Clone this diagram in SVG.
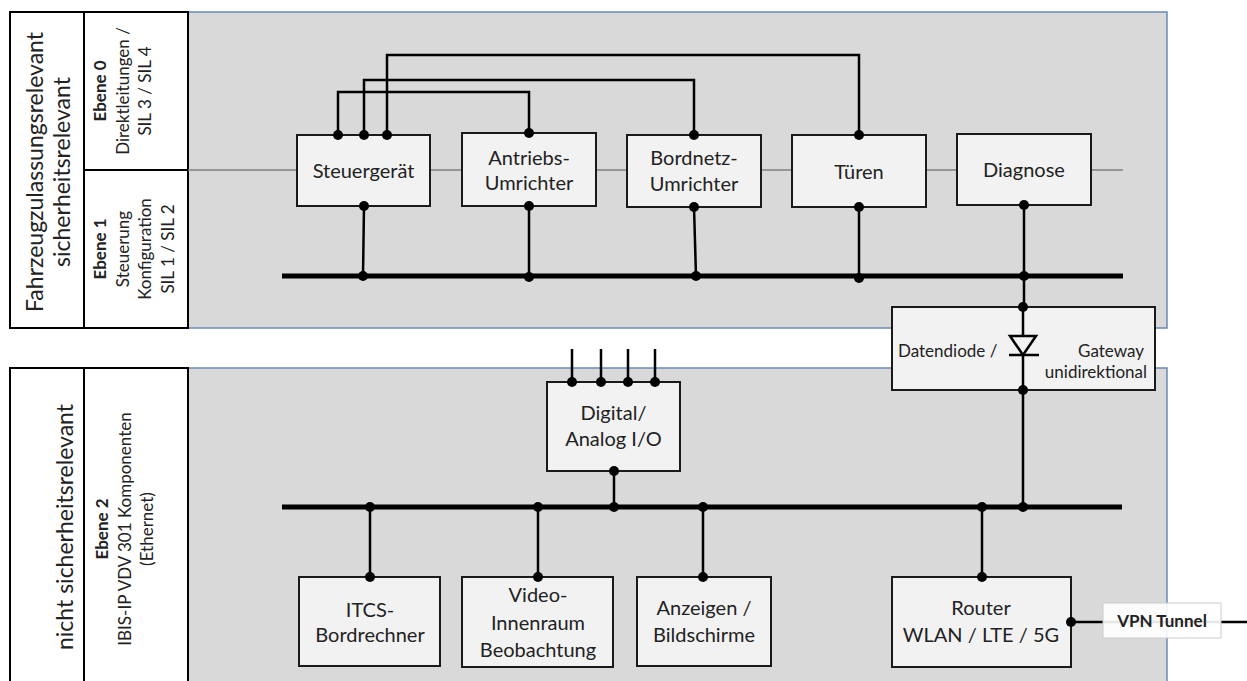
<svg xmlns="http://www.w3.org/2000/svg" width="1247" height="681" viewBox="0 0 1247 681">
<style>
.panel{fill:#d9d9d9;stroke:#6a8bb5;stroke-width:1.5}
.lab{fill:#fff;stroke:#000;stroke-width:2}
.box{fill:#f2f2f2;stroke:#1a1a1a;stroke-width:2}
.t{font-family:Lato,"Open Sans",sans-serif;font-size:20px;fill:#222;text-anchor:middle}
.g{font-size:17px}
.big{font-family:Lato,"Open Sans",sans-serif;font-size:23px;fill:#222;text-anchor:middle}
.sm{font-family:Lato,"Open Sans",sans-serif;font-size:17px;fill:#222;text-anchor:middle}
.b{font-weight:bold}
.ln{fill:none;stroke:#000;stroke-width:2.5}
.bus{fill:none;stroke:#000;stroke-width:5}
.thin{fill:none;stroke:#7f7f7f;stroke-width:1.5}
.dot{fill:#000}
</style>
<rect width="1247" height="681" fill="#fff"/>
<g id="panels">
<rect class="panel" x="188" y="12" width="979" height="316"/>
<rect class="panel" x="188" y="368" width="979" height="320"/>
</g>
<g id="labels">
<rect class="lab" x="10" y="12" width="74" height="316"/>
<rect class="lab" x="84" y="12" width="104" height="158"/>
<rect class="lab" x="84" y="170" width="104" height="158"/>
<rect class="lab" x="10" y="368" width="74" height="320"/>
<rect class="lab" x="84" y="368" width="104" height="320"/>
<text class="big" transform="translate(43,172) rotate(-90)"><tspan x="0" y="0">Fahrzeugzulassungsrelevant</tspan><tspan x="0" y="27">sicherheitsrelevant</tspan></text>
<text class="sm" transform="translate(106,91) rotate(-90)"><tspan x="0" y="0" class="b">Ebene 0</tspan><tspan x="0" y="22.5">Direktleitungen /</tspan><tspan x="0" y="45">SIL 3 / SIL 4</tspan></text>
<text class="sm" transform="translate(106,249) rotate(-90)"><tspan x="0" y="0" class="b">Ebene 1</tspan><tspan x="0" y="22.5">Steuerung</tspan><tspan x="0" y="45">Konfiguration</tspan><tspan x="0" y="67.5">SIL 1 / SIL 2</tspan></text>
<text class="big" transform="translate(73,527) rotate(-90)">nicht sicherheitsrelevant</text>
<text class="sm" transform="translate(108,529) rotate(-90)"><tspan x="0" y="0" class="b">Ebene 2</tspan><tspan x="0" y="22.5">IBIS-IP VDV 301 Komponenten</tspan><tspan x="0" y="45">(Ethernet)</tspan></text>
</g>
<g id="connectors">
<line class="thin" x1="188" y1="170" x2="1123" y2="170"/>
<line class="bus" x1="282" y1="276" x2="1123" y2="276"/>
<line class="bus" x1="282" y1="507" x2="1122" y2="507"/>
<path class="ln" d="M338,135 V92 H529 V133"/>
<path class="ln" d="M364,135 V80 H694 V135"/>
<path class="ln" d="M387,135 V55 H859 V135"/>
<path class="ln" d="M364,206 L363,276"/>
<path class="ln" d="M529,206 V276"/>
<path class="ln" d="M694,207 L696,276"/>
<path class="ln" d="M859,207 V278"/>
<path class="ln" d="M1024,205 V307"/>
<path class="ln" d="M1023,307 V390 V507"/>
<path class="ln" d="M572,349 V382 M601,349 V382 M628,349 V382 M655,349 V382"/>
<path class="ln" d="M614,471 V507"/>
<path class="ln" d="M370,507 V577 M538,507 V577 M703,507 V577 M982,507 V577"/>
<path class="ln" d="M1071,622 H1247"/>
</g>
<g id="steuergeraet"><rect class="box" x="297" y="135" width="133" height="71"/><text class="t" x="363.5" y="178">Steuergerät</text></g>
<g id="antriebs"><rect class="box" x="462" y="133" width="134" height="73"/><text class="t" x="529" y="165">Antriebs-</text><text class="t" x="529" y="190">Umrichter</text></g>
<g id="bordnetz"><rect class="box" x="627" y="135" width="134" height="72"/><text class="t" x="694" y="165">Bordnetz-</text><text class="t" x="694" y="191">Umrichter</text></g>
<g id="tueren"><rect class="box" x="792" y="135" width="134" height="72"/><text class="t" x="859" y="179">Türen</text></g>
<g id="diagnose"><rect class="box" x="957" y="134" width="134" height="71"/><text class="t" x="1024" y="177">Diagnose</text></g>
<g id="gateway">
<rect class="box" x="892" y="307" width="263" height="83"/>
<path class="ln" d="M1023,307 V390"/>
<path d="M1010,336 H1036 L1023,355 Z" fill="#f2f2f2" stroke="#000" stroke-width="2.5"/>
<path class="ln" d="M1009,355 H1039"/>
<text class="t g" x="898" y="357" style="text-anchor:start">Datendiode /</text>
<text class="t g" x="1144" y="357" style="text-anchor:end">Gateway</text>
<text class="t g" x="1147" y="378" style="text-anchor:end">unidirektional</text>
</g>
<g id="dio"><rect class="box" x="547" y="382" width="133" height="89"/><text class="t" x="613.5" y="420">Digital/</text><text class="t" x="613.5" y="446">Analog I/O</text></g>
<g id="itcs"><rect class="box" x="299" y="577" width="141" height="89"/><text class="t" x="370" y="617">ITCS-</text><text class="t" x="370" y="642">Bordrechner</text></g>
<g id="video"><rect class="box" x="462" y="577" width="151" height="90"/><text class="t" x="538" y="602">Video-</text><text class="t" x="538" y="630">Innenraum</text><text class="t" x="538" y="657">Beobachtung</text></g>
<g id="anzeigen"><rect class="box" x="637" y="577" width="134" height="89"/><text class="t" x="704" y="615">Anzeigen /</text><text class="t" x="704" y="642">Bildschirme</text></g>
<g id="router"><rect class="box" x="892" y="577" width="179" height="90"/><text class="t" x="981" y="615">Router</text><text class="t" x="981" y="642">WLAN / LTE / 5G</text></g>
<g id="vpn"><rect x="1103" y="603" width="118" height="35" fill="#fff" fill-opacity="0.9" stroke="#ccc" stroke-width="1"/><text class="sm b" x="1162" y="627">VPN Tunnel</text></g>
<g id="dots">
<circle class="dot" cx="338" cy="135" r="5"/><circle class="dot" cx="364" cy="135" r="5"/><circle class="dot" cx="387" cy="135" r="5"/>
<circle class="dot" cx="529" cy="133" r="5"/><circle class="dot" cx="694" cy="135" r="5"/><circle class="dot" cx="859" cy="135" r="5"/>
<circle class="dot" cx="364" cy="206" r="5"/><circle class="dot" cx="529" cy="206" r="5"/><circle class="dot" cx="694" cy="207" r="5"/><circle class="dot" cx="859" cy="207" r="5"/><circle class="dot" cx="1024" cy="205" r="5"/>
<circle class="dot" cx="363" cy="276" r="5"/><circle class="dot" cx="529" cy="277" r="5"/><circle class="dot" cx="696" cy="276" r="5"/><circle class="dot" cx="859" cy="278" r="5"/><circle class="dot" cx="1024" cy="276" r="5"/>
<circle class="dot" cx="1023" cy="307" r="5"/><circle class="dot" cx="1023" cy="390" r="5"/>
<circle class="dot" cx="572" cy="382" r="5"/><circle class="dot" cx="601" cy="382" r="5"/><circle class="dot" cx="628" cy="382" r="5"/><circle class="dot" cx="655" cy="382" r="5"/>
<circle class="dot" cx="614" cy="471" r="5"/>
<circle class="dot" cx="370" cy="507" r="5"/><circle class="dot" cx="538" cy="507" r="5"/><circle class="dot" cx="614" cy="507" r="5"/><circle class="dot" cx="703" cy="507" r="5"/><circle class="dot" cx="982" cy="507" r="5"/><circle class="dot" cx="1023" cy="507" r="5"/>
<circle class="dot" cx="370" cy="577" r="5"/><circle class="dot" cx="538" cy="577" r="5"/><circle class="dot" cx="703" cy="577" r="5"/><circle class="dot" cx="982" cy="577" r="5"/>
<circle class="dot" cx="1071" cy="622" r="5"/>
</g>
</svg>
